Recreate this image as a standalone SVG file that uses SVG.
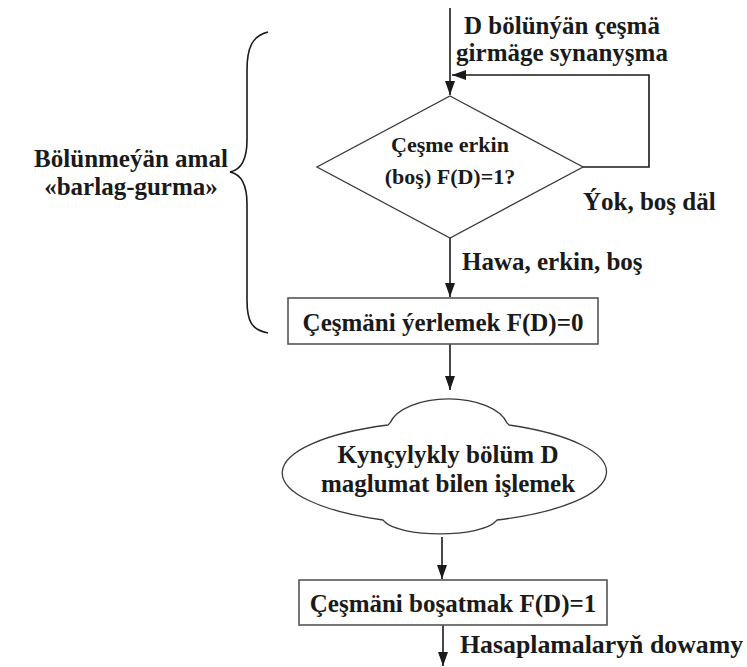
<svg xmlns="http://www.w3.org/2000/svg" width="747" height="667" viewBox="0 0 747 667">
  <style>
    .t { font-family: "Liberation Serif", "Times New Roman", serif; font-weight: bold; font-size: 25px; fill: #1a1a1a; }
    .ts { font-size: 22px; }
    .mid { text-anchor: middle; }
    .line { fill: none; stroke: #1a1a1a; stroke-width: 1.6; }
    .shape { fill: #fff; stroke: #3a3a3a; stroke-width: 1.3; }
    .box { fill: #fff; stroke: #555; stroke-width: 1.6; }
  </style>
  <defs>
    <marker id="arrow" viewBox="0 0 14 10" markerWidth="14" markerHeight="10" refX="14" refY="5" orient="auto" markerUnits="userSpaceOnUse">
      <path d="M0,0 L14,5 L0,10 z" fill="#1a1a1a"/>
    </marker>
  </defs>
  <rect width="747" height="667" fill="#fff"/>

  <!-- connectors -->
  <g id="connectors">
    <path class="line" d="M450,8 V95" marker-end="url(#arrow)"/>
    <path class="line" d="M583,167 H649 V75 H452" marker-end="url(#arrow)"/>
    <path class="line" d="M450,238 V297" marker-end="url(#arrow)"/>
    <path class="line" d="M450,344 V390" marker-end="url(#arrow)"/>
    <path class="line" d="M442,537 V579" marker-end="url(#arrow)"/>
    <path class="line" d="M443,625 V666" marker-end="url(#arrow)"/>
  </g>

  <!-- connector labels -->
  <g id="labels">
    <text class="t mid" x="562" y="34">D bölünýän çeşmä</text>
    <text class="t mid" x="562" y="61">girmäge synanyşma</text>
    <text class="t" x="583" y="210">Ýok, boş däl</text>
    <text class="t" x="462" y="270">Hawa, erkin, boş</text>
    <text class="t" x="460" y="653" style="font-size:25.8px">Hasaplamalaryň dowamy</text>
  </g>

  <!-- brace grouping the atomic test-and-set -->
  <g id="atomic">
    <path class="line" stroke-width="1.2" d="M268,32 C252,36 247,48 247,70 V140 C247,160 240,170 230,172 C240,174 247,184 247,204 V300 C247,322 252,330 268,333"/>
    <text class="t mid" x="131" y="167">Bölünmeýän amal</text>
    <text class="t mid" x="131" y="195">«barlag-gurma»</text>
  </g>

  <g id="decision">
    <polygon class="shape" points="450,96 583,167 450,238 317,167"/>
    <text class="t ts mid" x="450" y="152">Çeşme erkin</text>
    <text class="t ts mid" x="450" y="184">(boş) F(D)=1?</text>
  </g>

  <g id="lock">
    <rect class="box" x="288" y="298" width="310" height="46"/>
    <text class="t mid" x="443" y="331">Çeşmäni ýerlemek F(D)=0</text>
  </g>

  <g id="critical">
    <path class="shape" stroke-width="1.6" d="M390,423 A60,31 0 0 1 507,423 L509,425 A174,52 0 0 1 497,520 L495,522 A57,16 0 0 1 385,522 L383,520 A174,52 0 0 1 388,425 Z"/>
    <text class="t mid" x="448" y="463">Kynçylykly bölüm D</text>
    <text class="t mid" x="448" y="492">maglumat bilen işlemek</text>
  </g>

  <g id="unlock">
    <rect class="box" x="299" y="580" width="308" height="45"/>
    <text class="t mid" x="453" y="612">Çeşmäni boşatmak F(D)=1</text>
  </g>
</svg>
